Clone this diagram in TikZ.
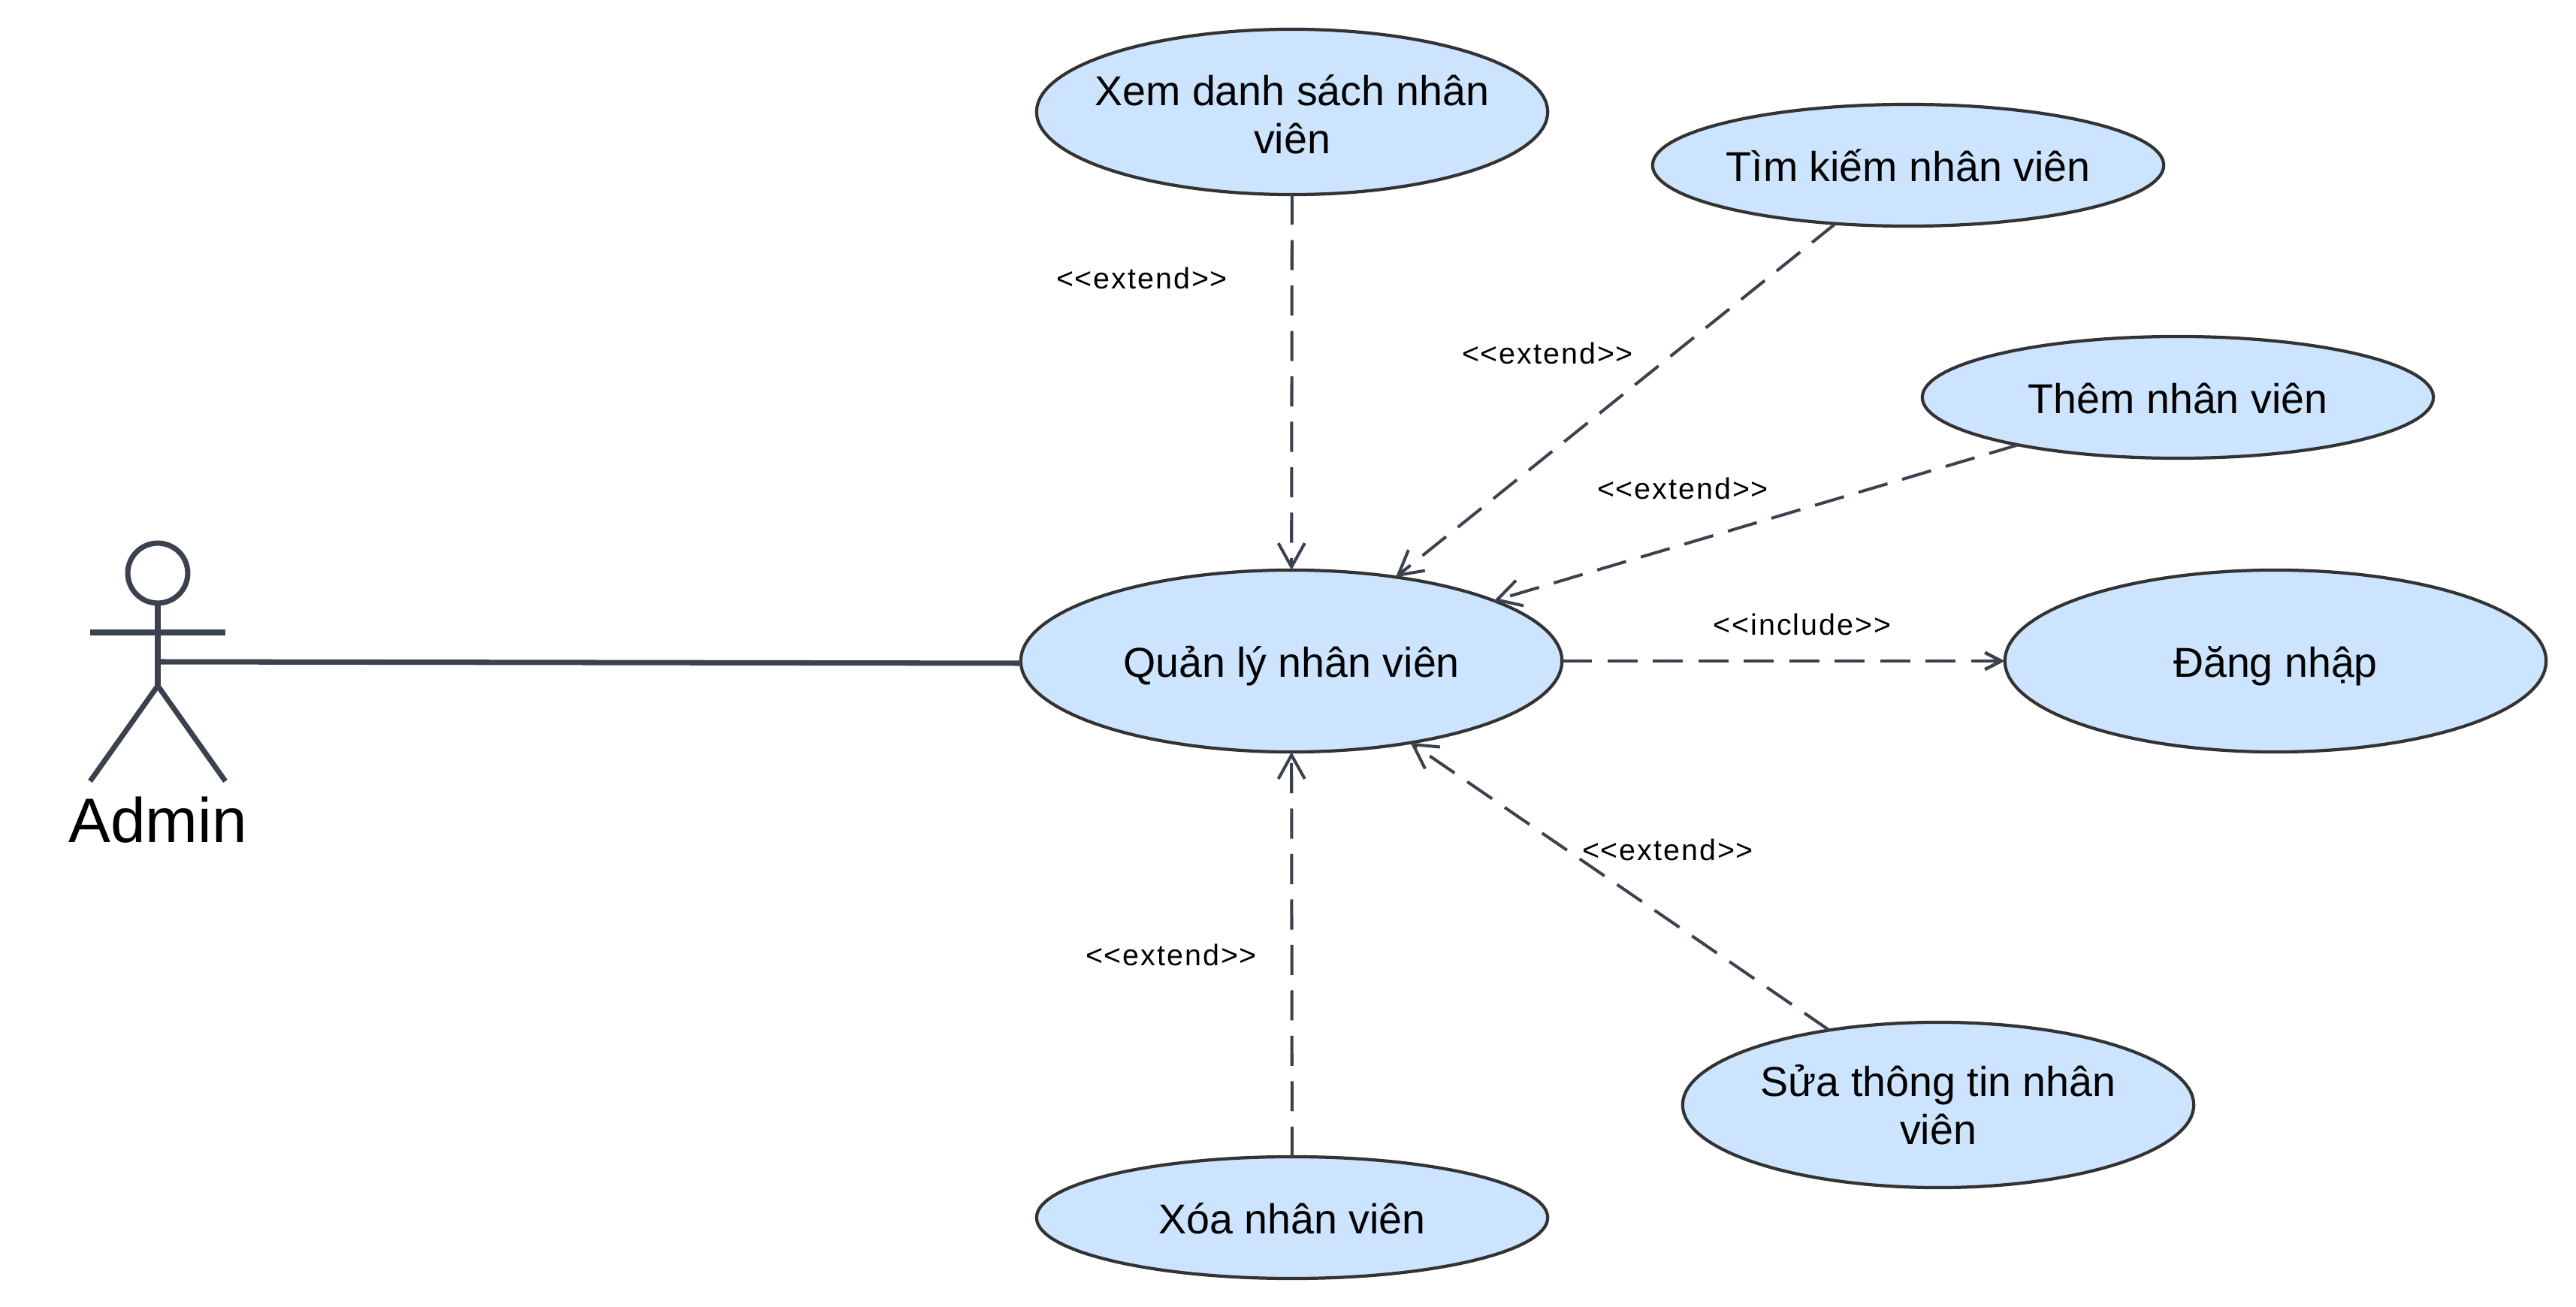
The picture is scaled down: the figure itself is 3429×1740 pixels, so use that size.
\documentclass[tikz,border=0pt]{standalone}
\usepackage{fontspec}
\setmainfont{Liberation Sans}
\newfontface\stereofont[LetterSpace=5]{Liberation Sans}
\usetikzlibrary{shapes.geometric,arrows.meta}
\definecolor{lineC}{HTML}{3B424E}
\definecolor{edgeC}{HTML}{333333}
\definecolor{fillC}{HTML}{CDE4FF}
\tikzset{
  x=0.01cm,y=-0.01cm,
  usecase/.style={ellipse,draw=edgeC,fill=fillC,line width=1.2pt,inner xsep=-0.6cm,inner ysep=0pt,outer sep=0pt,align=center,font=\fontsize{15.8}{18.2}\selectfont,text=black},
  oneline/.style={text height=12pt,text depth=0pt},
  small/.style={usecase,oneline,minimum width=6.8cm,minimum height=1.62cm},
  tall/.style={usecase,minimum width=6.8cm,minimum height=2.2cm},
  big/.style={usecase,oneline,minimum width=7.2cm,minimum height=2.42cm},
  rel/.style={draw=lineC,line width=1.15pt,dash pattern=on 11.4pt off 5.8pt,-{Straight Barb[length=9pt,width=10pt,line width=1.15pt]}},
  relsmall/.style={rel,line width=1.25pt,-{Straight Barb[length=6.2pt,width=6.4pt,line width=1.25pt]}},
  actorline/.style={draw=lineC,line width=2pt},
  stereo/.style={inner sep=0pt,font=\stereofont\fontsize{11.2}{13}\selectfont,text=black},
}
\begin{document}
\begin{tikzpicture}
\useasboundingbox (0,0) rectangle (3429,1740);
\node[tall] (xem) at (1720,149) {\rule{0pt}{13.8pt}Xem danh sách nhân\\viên};
\node[small] (tim) at (2540,220) {Tìm kiếm nhân viên};
\node[small] (them) at (2899,529) {Thêm nhân viên};
\node[big] (qly) at (1719,880) {Quản lý nhân viên};
\node[big] (dang) at (3029,880) {Đăng nhập};
\node[tall] (sua) at (2580,1471) {Sửa thông tin nhân\\viên};
\node[small] (xoa) at (1720,1621) {Xóa nhân viên};
% actor
\node[circle,actorline,minimum size=0.798cm,inner sep=0pt,outer sep=0pt] (head) at (210,763) {};
\coordinate (hip) at (210,913);
\coordinate (shoulderL) at (120,842);
\coordinate (shoulderR) at (300,842);
\coordinate (footL) at (120,1040);
\coordinate (footR) at (300,1040);
\coordinate (waist) at (210,881);
\draw[actorline] (head.south) -- (hip);
\draw[actorline] (shoulderL) -- (shoulderR);
\draw[actorline] (footL) -- (hip) -- (footR);
\node[inner sep=0pt,font=\fontsize{23.8}{27}\selectfont,text=black] (admin) at (210,1092) {Admin};
\draw[actorline] (waist) -- ([yshift=-0.03cm]qly.west);
% relations
\draw[rel] (xem) -- (qly);
\draw[rel] (tim) -- (qly);
\draw[rel] (them) -- (qly);
\draw[relsmall] (qly) -- (dang);
\draw[rel] (sua) -- (qly);
\draw[rel] (xoa) -- (qly);
\node[stereo] (l1) at (1520,370) {<{}<extend>{}>};
\node[stereo] (l2) at (2060,470) {<{}<extend>{}>};
\node[stereo] (l3) at (2240,650) {<{}<extend>{}>};
\node[stereo] (l4) at (2399,831) {<{}<include>{}>};
\node[stereo] (l5) at (2220,1131) {<{}<extend>{}>};
\node[stereo] (l6) at (1559,1271) {<{}<extend>{}>};
\end{tikzpicture}
\end{document}
